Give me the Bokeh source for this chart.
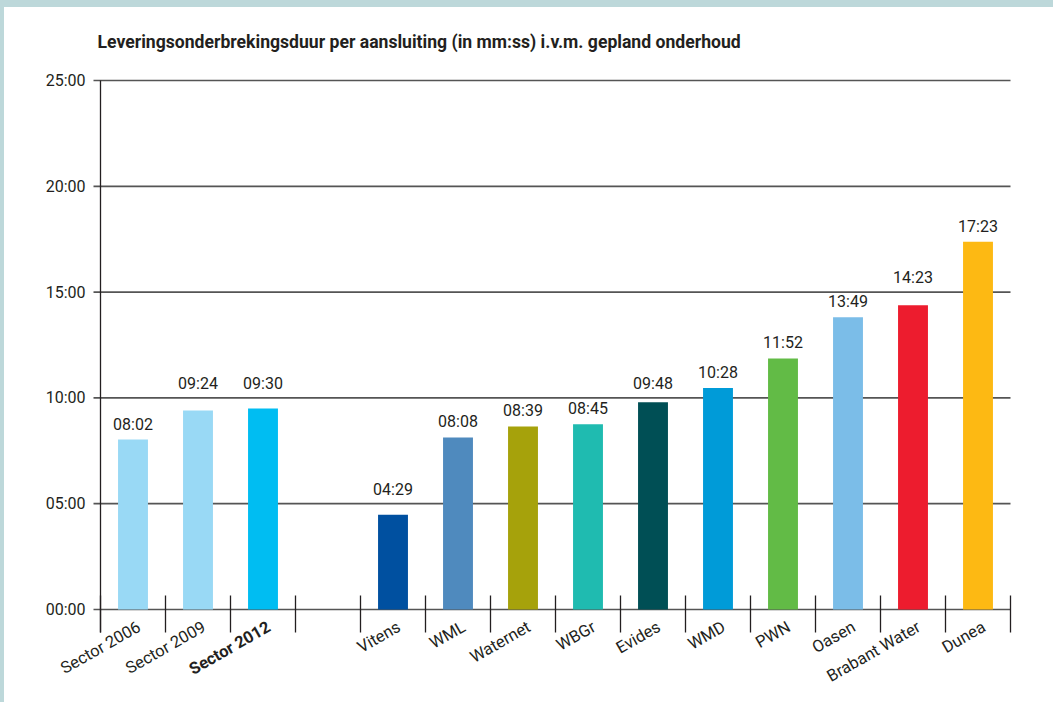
from bokeh.plotting import figure
from bokeh.layouts import column, row
from bokeh.models import ColumnDataSource, FixedTicker, Range1d, LabelSet, Div
from bokeh.core.properties import value, field
from bokeh.embed import file_html
from bokeh.resources import INLINE

title_text = "Leveringsonderbrekingsduur per aansluiting (in mm:ss) i.v.m. gepland onderhoud"
categories = ["Sector 2006", "Sector 2009", "Sector 2012", "", "Vitens", "WML", "Waternet",
              "WBGr", "Evides", "WMD", "PWN", "Oasen", "Brabant Water", "Dunea"]
durations = ["08:02", "09:24", "09:30", "", "04:29", "08:08", "08:39",
             "08:45", "09:48", "10:28", "11:52", "13:49", "14:23", "17:23"]
colors = ["#99d9f5", "#99d9f5", "#00bdf2", "#ffffff", "#0050a0", "#4f8abe", "#a6a20b",
          "#1fbbb0", "#004f55", "#009bd8", "#62bb46", "#7bbde8", "#ed1c2e", "#fdb913"]
label_styles = ["normal", "normal", "bold", "normal", "normal", "normal", "normal",
                "normal", "normal", "normal", "normal", "normal", "normal", "normal"]
y_ticks = [0, 5, 10, 15, 20, 25]
y_tick_labels = ["00:00", "05:00", "10:00", "15:00", "20:00", "25:00"]

FONT = "Roboto"
INK = "#231f20"
GRID = "#555555"
BAND = "#bdd8da"

# layout constants (pixels)
BAND_TOP, BAND_LEFT = 7, 4
PLOT_W, PLOT_H = 1053 - BAND_LEFT, 702 - BAND_TOP
SLOT_PX = 65.0
PX_PER_MIN = 529 / 25.0
PX = 1.0 / PX_PER_MIN      # y data units per pixel
XPX = 1.0 / SLOT_PX        # x data units per pixel
AXIS_X = 100 - BAND_LEFT   # canvas x of the value axis
FRAME_L = 36               # canvas x of frame left (room for rotated labels)
TOP_PAD = 15               # frame space above the 25:00 line
FRAME_T = 73 - TOP_PAD
FRAME_B_BORDER = 2
LABEL_GAP, LABEL_H = 6, 13


def to_minutes(s):
    m, sec = s.split(":")
    return int(m) + int(sec) / 60.0


def label_offset(top):
    """Pixel offset of a value label, lifted above a grid line it would cross."""
    top_px = top * PX_PER_MIN
    lo, hi = top_px + LABEL_GAP, top_px + LABEL_GAP + LABEL_H
    for g in y_ticks:
        g_px = g * PX_PER_MIN
        if lo - 2 <= g_px <= hi + 2:
            return g_px - top_px + 5
    return LABEL_GAP


idx = [i for i, d in enumerate(durations) if d]
tops = [to_minutes(durations[i]) for i in idx]
bars = ColumnDataSource(dict(
    x=idx,
    top=tops,
    label=[durations[i] for i in idx],
    color=[colors[i] for i in idx],
    dy=[label_offset(t) for t in tops],
))
n = len(categories)
cats = ColumnDataSource(dict(
    x=list(range(n)),
    y=[0] * n,
    name=categories,
    style=label_styles,
))
boundaries = [i - 0.5 for i in range(n + 1)]
tick_src = ColumnDataSource(dict(
    x=boundaries,
    y0=[-23 * PX] * len(boundaries),
    y1=[14 * PX] * len(boundaries),
))
grid_src = ColumnDataSource(dict(
    y=y_ticks,
    x0=[-0.5 - 7 * XPX] * len(y_ticks),
    x1=[n - 0.5] * len(y_ticks),
))

y_top = max(y_ticks) + TOP_PAD * PX
frame_h = PLOT_H - FRAME_T - FRAME_B_BORDER
y_bottom = y_top - frame_h * PX
x_start = -0.5 - (AXIS_X - FRAME_L) * XPX
x_end = n - 0.5 + 4 * XPX
frame_right = AXIS_X + n * SLOT_PX + 4

p = figure(width=PLOT_W, height=PLOT_H, x_range=Range1d(x_start, x_end),
           y_range=Range1d(y_bottom, y_top), output_backend="svg", toolbar_location=None,
           min_border_left=FRAME_L, min_border_right=int(PLOT_W - frame_right),
           min_border_top=FRAME_T, min_border_bottom=FRAME_B_BORDER)
p.outline_line_color = None
p.background_fill_color = "white"
p.border_fill_color = "white"

p.title.text = title_text
p.title.text_font = FONT
p.title.text_font_size = "17.6px"
p.title.text_font_style = "bold"
p.title.text_color = INK
p.title.align = "left"
p.title.offset = 57
p.title.standoff = 27

# horizontal grid lines (with the short stub left of the value axis)
p.segment(x0="x0", x1="x1", y0="y", y1="y", line_color=GRID, line_width=1.7, source=grid_src)
p.vbar(x="x", top="top", bottom=0, width=0.46, color="color", line_color=None, source=bars)
# category separator ticks
p.segment(x0="x", x1="x", y0="y0", y1="y1", line_color=INK, line_width=1.3, source=tick_src)

p.xgrid.visible = False
p.ygrid.visible = False
p.xaxis.visible = False

ya = p.yaxis[0]
ya.fixed_location = -0.5
ya.ticker = FixedTicker(ticks=y_ticks)
ya.bounds = (-23 * PX, max(y_ticks))
ya.major_label_overrides = {t: l for t, l in zip(y_ticks, y_tick_labels)}
ya.major_tick_out = 0
ya.major_tick_in = 0
ya.major_tick_line_color = None
ya.minor_tick_line_color = None
ya.axis_line_color = INK
ya.axis_line_width = 1.3
ya.major_label_text_font = FONT
ya.major_label_text_font_size = "16px"
ya.major_label_text_color = INK
ya.major_label_standoff = 15

p.add_layout(LabelSet(x="x", y="top", text="label", source=bars, text_align="center",
                      text_baseline="bottom", y_offset=field("dy"), text_font=value(FONT),
                      text_font_size="16px", text_color=INK))
p.add_layout(LabelSet(x="x", y="y", text="name", source=cats, angle=0.52,
                      text_align="right", text_baseline="middle", x_offset=6, y_offset=-16,
                      text_font=value(FONT), text_font_size="16.5px",
                      text_font_style=field("style"), text_color=INK))

top_band = Div(text="", width=1053, height=BAND_TOP, margin=0,
               styles={"background-color": BAND})
left_band = Div(text="", width=BAND_LEFT, height=PLOT_H, margin=0,
                styles={"background-color": BAND})
layout = column(top_band, row(left_band, p, spacing=0, margin=0), spacing=0, margin=0)

open("out.html", "w").write(file_html(layout, INLINE))
